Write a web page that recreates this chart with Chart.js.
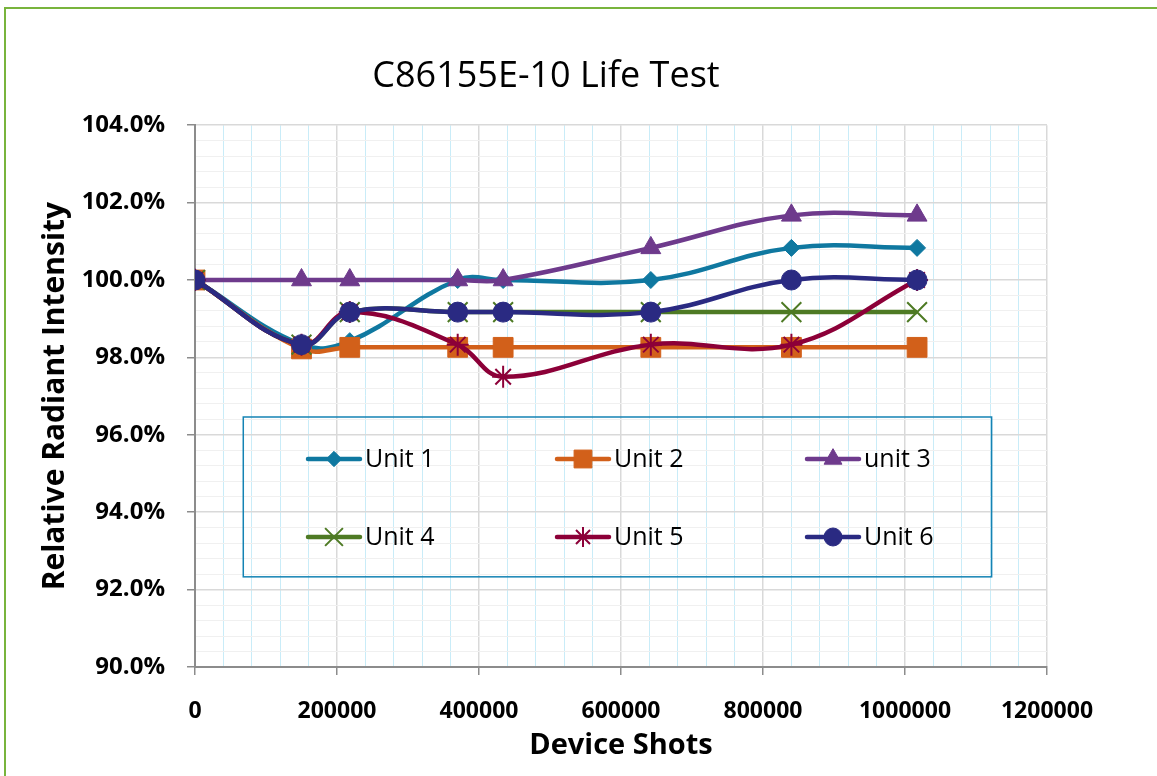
<!DOCTYPE html>
<html>
<head>
<meta charset="utf-8">
<script src="https://cdn.jsdelivr.net/npm/chart.js@4"></script>
<style>
html,body{margin:0;padding:0;background:#fff;overflow:hidden}
#wrap{position:relative;width:1157px;height:776px}
#frame{position:absolute;left:4px;top:7px;width:1170px;height:820px;border:2px solid #78B43C;box-sizing:border-box}
#chart{position:absolute;left:0;top:0}
</style>
</head>
<body>
<div id="wrap">
<div id="frame"></div>
<canvas id="chart" width="1157" height="776"></canvas>
</div>
<script>
;(function(){
const shots = [0, 150000, 218000, 370000, 434000, 642000, 840000, 1017000]
const unit1 = [100, 98.33, 98.42, 100, 100, 100, 100.83, 100.83]
const unit2 = [100, 98.22, 98.26, 98.26, 98.26, 98.26, 98.26, 98.26]
const unit3 = [100, 100, 100, 100, 100, 100.83, 101.67, 101.67]
const unit4 = [100, 98.33, 99.17, 99.17, 99.17, 99.17, 99.17, 99.17]
const unit5 = [100, 98.33, 99.17, 98.33, 97.5, 98.33, 98.33, 100]
const unit6 = [100, 98.33, 99.17, 99.17, 99.17, 99.17, 100, 100]
const seriesNames = ["Unit 1", "Unit 2", "unit 3", "Unit 4", "Unit 5", "Unit 6"]
const xTickLabels = ["0", "200000", "400000", "600000", "800000", "1000000", "1200000"]
const yTickLabels = ["90.0%", "92.0%", "94.0%", "96.0%", "98.0%", "100.0%", "102.0%", "104.0%"]

const FONT = "'Open Sans', 'Liberation Sans', sans-serif"
const LEFT_PAD = 45

const seriesStyles = [
  {color: "#0F78A0", pointStyle: "rectRot", radius: 8.5, pointBorderWidth: 1},
  {color: "#D2601A", pointStyle: "rect", radius: 14, pointBorderWidth: 1},
  {color: "#6E3A8C", pointStyle: "triangle", radius: 11.5, pointBorderWidth: 1},
  {color: "#4E7A24", pointStyle: "crossRot", radius: 14, pointBorderWidth: 2},
  {color: "#8C0038", pointStyle: "star", radius: 11, pointBorderWidth: 2},
  {color: "#2A2A82", pointStyle: "circle", radius: 10, pointBorderWidth: 1}
]

const allValues = [unit1, unit2, unit3, unit4, unit5, unit6]

function isMajor(value, step){
  const r = Math.round(value * 1000) / 1000
  return Math.abs(r / step - Math.round(r / step)) < 1e-6
}

const datasets = allValues.map((values, i) => {
  const s = seriesStyles[i]
  return {
    label: seriesNames[i],
    data: values.map((v, j) => ({x: shots[j], y: v})),
    borderColor: s.color,
    backgroundColor: s.color,
    borderWidth: 4.5,
    tension: 0.4,
    pointStyle: s.pointStyle,
    pointRadius: s.radius,
    pointHoverRadius: s.radius,
    pointBorderColor: s.color,
    pointBackgroundColor: s.color,
    pointBorderWidth: s.pointBorderWidth,
    order: 6 - i
  }
})

const legendBox = {
  id: "legendBox",
  afterDraw(chart){
    const ctx = chart.ctx
    const xs = chart.scales.x
    const ys = chart.scales.y
    const left = xs.getPixelForValue(68000)
    const right = xs.getPixelForValue(1122000)
    const top = ys.getPixelForValue(96.46)
    const bottom = ys.getPixelForValue(92.33)
    ctx.save()
    ctx.strokeStyle = "#1483B4"
    ctx.lineWidth = 1.5
    ctx.strokeRect(left, top, right - left, bottom - top)
    const colStart = [308, 557, 807]
    const rowY = [top + 42, top + 120]
    ctx.font = "25px " + FONT
    ctx.textBaseline = "middle"
    ctx.textAlign = "left"
    seriesNames.forEach((name, i) => {
      const s = seriesStyles[i]
      const x0 = colStart[i % 3]
      const y0 = rowY[Math.floor(i / 3)]
      ctx.strokeStyle = s.color
      ctx.lineWidth = 4.5
      ctx.lineCap = "round"
      ctx.beginPath()
      ctx.moveTo(x0, y0)
      ctx.lineTo(x0 + 52, y0)
      ctx.stroke()
      ctx.lineCap = "butt"
      ctx.fillStyle = s.color
      ctx.lineWidth = s.pointBorderWidth
      Chart.helpers.drawPoint(ctx, {
        pointStyle: s.pointStyle,
        radius: s.radius * 0.9,
        rotation: 0,
        borderWidth: s.pointBorderWidth
      }, x0 + 26, y0)
      ctx.fillStyle = "#000"
      ctx.fillText(name, x0 + 57, y0 + 1)
    })
    ctx.restore()
  }
}

new Chart(document.getElementById("chart"), {
  type: "line",
  data: {datasets},
  plugins: [legendBox],
  options: {
    responsive: false,
    animation: false,
    layout: {padding: {top: 0, right: 110, bottom: 0, left: LEFT_PAD}},
    plugins: {
      legend: {display: false},
      tooltip: {enabled: false},
      title: {
        display: true,
        text: "C86155E-10 Life Test",
        color: "#000",
        font: {family: FONT, size: 36, weight: "normal", lineHeight: 1.2},
        padding: {top: 55, bottom: 27}
      }
    },
    scales: {
      x: {
        type: "linear",
        min: 0,
        max: 1200000,
        afterFit(scale){ scale.height = 109 },
        ticks: {
          stepSize: 40000,
          autoSkip: false,
          maxRotation: 0,
          padding: 23,
          color: "#000",
          font: {family: FONT, size: 23, weight: "bold"},
          callback(value){
            return isMajor(value, 200000) ? xTickLabels[Math.round(value / 200000)] : ""
          }
        },
        grid: {
          color: (c) => isMajor(c.tick.value, 200000) ? "#D9D9D9" : "#C9ECF8",
          lineWidth: (c) => isMajor(c.tick.value, 200000) ? 1.5 : 1,
          tickColor: (c) => isMajor(c.tick.value, 200000) ? "#8C8C8C" : "rgba(0,0,0,0)",
          tickLength: 8
        },
        border: {color: "#8C8C8C", width: 2},
        title: {
          display: true,
          text: "Device Shots",
          color: "#000",
          font: {family: FONT, size: 29, weight: "bold", lineHeight: 1.2},
          padding: {top: 0, bottom: 13}
        }
      },
      y: {
        min: 90,
        max: 104,
        afterFit(scale){ scale.width = 195 - LEFT_PAD },
        ticks: {
          stepSize: 0.4,
          autoSkip: false,
          padding: 22,
          color: "#000",
          font: {family: FONT, size: 24, weight: "bold"},
          callback(value){
            return isMajor(value, 2) ? yTickLabels[Math.round((value - 90) / 2)] : ""
          }
        },
        grid: {
          color: (c) => isMajor(c.tick.value, 2) ? "#D9D9D9" : "#F0F0F0",
          lineWidth: (c) => isMajor(c.tick.value, 2) ? 1.5 : 1,
          tickColor: (c) => isMajor(c.tick.value, 2) ? "#8C8C8C" : "rgba(0,0,0,0)",
          tickLength: 8
        },
        border: {color: "#8C8C8C", width: 2},
        title: {
          display: true,
          text: "Relative Radiant Intensity",
          color: "#000",
          font: {family: FONT, size: 30, weight: "bold", lineHeight: 1.2},
          padding: {top: -8, bottom: 0}
        }
      }
    }
  }
})
})()
</script>
</body>
</html>
